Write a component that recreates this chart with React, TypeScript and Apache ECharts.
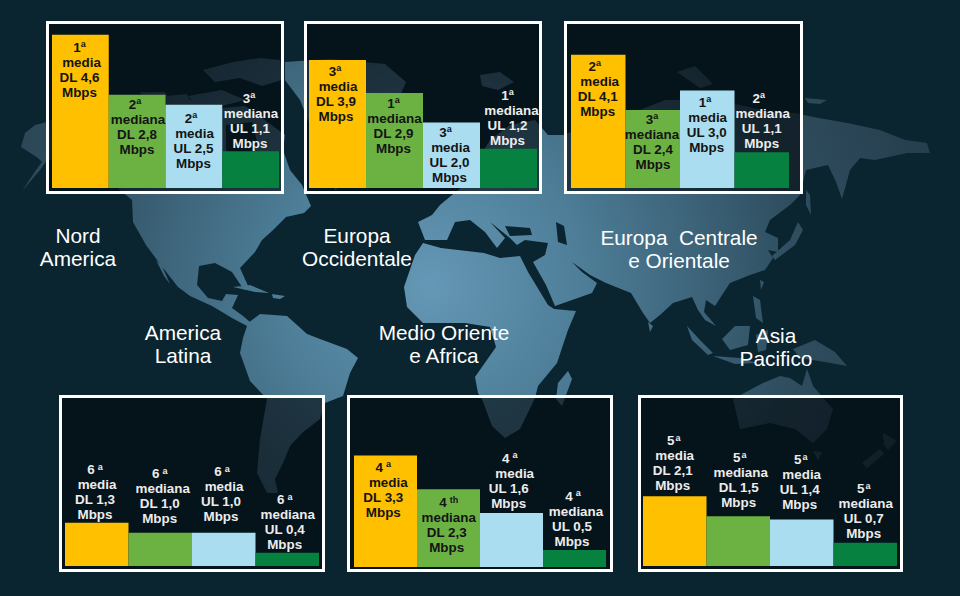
import React, { useEffect, useRef } from "react";
import * as echarts from "echarts";

// ---------- data ----------
const categories = ["media DL", "mediana DL", "media UL", "mediana UL"];
const metrics = ["media", "mediana", "media", "mediana"];
const directions = ["DL", "DL", "UL", "UL"];
const unit = "Mbps";

const northAmerica = [4.6, 2.8, 2.5, 1.1];
const westernEurope = [3.9, 2.9, 2.0, 1.2];
const centralEasternEurope = [4.1, 2.4, 3.0, 1.1];
const latinAmerica = [1.3, 1.0, 1.0, 0.4];
const middleEastAfrica = [3.3, 2.3, 1.6, 0.5];
const asiaPacific = [2.1, 1.5, 1.4, 0.7];

const northAmericaRanks = ["1", "2", "2", "3"];
const westernEuropeRanks = ["3", "1", "3", "1"];
const centralEasternEuropeRanks = ["2", "3", "1", "2"];
const latinAmericaRanks = ["6", "6", "6", "6"];
const middleEastAfricaRanks = ["4", "4", "4", "4"];
const asiaPacificRanks = ["5", "5", "5", "5"];

const middleEastAfricaSuffixes = ["a", "th", "a", "a"];

const regionNames = [
  "Nord\nAmerica",
  "Europa\nOccidentale",
  "Europa  Centrale\ne Orientale",
  "America\nLatina",
  "Medio Oriente\ne Africa",
  "Asia\nPacifico",
];

// ---------- layout and styles (no data) ----------
const barColors = ["#FFC000", "#6CB243", "#ABDDF0", "#06813F"];
const DARK = "#141414";
const LIGHT = "#ECECEC";

type Panel = {
  values: number[];
  ranks: string[];
  suffixes?: string[];
  box: number[]; // x, y, w, h
  plot: number[]; // left, right, bottom
  scale: number; // px per unit
  labelX: number[];
  labelY: number[];
  rankShift: number[];
  metricShift: number[];
  light: boolean[];
  gap: number;
};

const panels: Panel[] = [
  {
    values: northAmerica, ranks: northAmericaRanks, box: [47.5, 22.5, 235, 170], plot: [52, 279, 188], scale: 33.3,
    labelX: [79.5, 137, 193.5, 250], labelY: [47, 104, 118, 98], rankShift: [0, -2, -2.5, -1], metricShift: [2, 1, 1, 1],
    light: [false, false, false, true], gap: 0,
  },
  {
    values: westernEurope, ranks: westernEuropeRanks, box: [305.5, 22.5, 235, 170], plot: [309, 537, 188], scale: 32.8,
    labelX: [336, 393.5, 449.5, 507.5], labelY: [71, 103, 132, 95], rankShift: [-1, 0, -4, 0], metricShift: [2, 1, 1, 4],
    light: [false, false, false, true], gap: 0,
  },
  {
    values: centralEasternEurope, ranks: centralEasternEuropeRanks, box: [565.5, 22.5, 236, 170], plot: [571, 789, 188], scale: 32.5,
    labelX: [597.7, 653, 706.7, 761.7], labelY: [66, 119, 102, 98], rankShift: [-3, -1, -1.7, -3], metricShift: [2, -1, 1, 1],
    light: [false, false, false, true], gap: 0,
  },
  {
    values: latinAmerica, ranks: latinAmericaRanks, box: [60.5, 396.5, 263, 174], plot: [65, 319, 566], scale: 33.2,
    labelX: [95, 159.7, 221, 284.7], labelY: [469.7, 473.7, 471.7, 499.7], rankShift: [0, 0, 1, 0], metricShift: [2, 3, 3, 3],
    light: [true, true, true, true], gap: 3,
  },
  {
    values: middleEastAfrica, ranks: middleEastAfricaRanks, suffixes: middleEastAfricaSuffixes, box: [348.5, 396.5, 263, 174], plot: [354, 606, 567], scale: 33.8,
    labelX: [383.3, 446.7, 508.7, 572], labelY: [467, 502.7, 458.3, 496], rankShift: [0, 2, 1, 1], metricShift: [5, 2, 6, 4],
    light: [false, false, true, true], gap: 3,
  },
  {
    values: asiaPacific, ranks: asiaPacificRanks, box: [639.5, 396.5, 262, 174], plot: [643, 897, 566], scale: 33.2,
    labelX: [672.7, 738.7, 799.7, 863.7], labelY: [440.7, 457.7, 459.7, 488.7], rankShift: [1, 1, 1, 0], metricShift: [2, 2, 2, 2],
    light: [true, true, true, true], gap: 1,
  },
];

const regionLabelPositions = [
  [78, 224], [357, 224], [679, 226], [183, 321], [444, 321], [776, 324],
];

// ---------- decorative world map backdrop ----------
const landPolys: number[][][] = [
  // North America
  [[21,147],[25,133],[35,125],[47,122],[80,105],[140,96],[190,100],[222,108],[245,106],[262,118],[285,135],[283,150],[290,170],[302,185],[311,206],[304,213],[286,217],[272,231],[262,240],[255,252],[240,268],[249,288],[244,290],[232,272],[215,263],[199,266],[197,285],[208,298],[222,301],[226,294],[238,295],[232,308],[243,316],[250,322],[247,326],[232,318],[212,306],[190,296],[178,287],[160,264],[146,245],[133,222],[132,200],[120,190],[100,172],[70,160],[47,160],[40,170],[22,191],[36,170],[42,162],[38,158]],
  // Baja
  [[156,260],[162,266],[170,284],[164,276]],
  // Cuba & Hispaniola
  [[233,287],[250,285],[269,293],[255,292]],
  [[272,294],[285,296],[280,299],[273,298]],
  // Arctic Canada
  [[203,70],[233,62],[260,58],[280,60],[282,80],[262,86],[240,78],[215,82]],
  [[140,92],[165,92],[170,100],[145,101]],
  [[166,96],[187,94],[190,101],[170,102]],
  [[188,96],[222,90],[245,100],[222,106],[195,104]],
  // Greenland
  [[285,62],[330,59],[385,64],[406,82],[396,105],[365,125],[350,160],[336,190],[318,170],[312,130],[300,100],[285,80]],
  // South America
  [[248,323],[260,314],[287,316],[307,334],[320,339],[347,349],[358,358],[350,373],[343,396],[325,403],[320,419],[302,433],[290,446],[283,463],[275,479],[278,493],[267,493],[257,473],[260,439],[267,399],[250,381],[240,353],[243,338]],
  // Africa
  [[423,243],[441,248],[484,253],[500,258],[520,256],[528,272],[548,305],[554,309],[576,311],[568,330],[557,363],[538,386],[535,398],[520,429],[505,438],[492,426],[482,399],[478,393],[475,377],[496,347],[490,327],[465,323],[423,323],[407,307],[404,287],[415,255]],
  // Madagascar
  [[568,371],[572,379],[562,406],[556,399],[558,383]],
  // Eurasia
  [[418,222],[432,215],[440,205],[452,195],[470,180],[478,160],[490,140],[510,125],[535,120],[548,135],[563,135],[590,125],[640,110],[665,100],[700,100],[740,105],[770,112],[795,113],[813,117],[847,123],[880,130],[905,140],[927,143],[930,153],[907,153],[875,160],[860,158],[850,170],[842,199],[836,182],[828,165],[806,170],[800,195],[790,205],[770,220],[765,232],[778,238],[778,252],[768,250],[773,258],[765,270],[750,275],[730,283],[722,295],[715,306],[706,300],[704,312],[716,326],[705,320],[698,310],[692,297],[673,303],[660,315],[650,323],[643,313],[631,293],[606,283],[590,275],[572,262],[582,272],[597,283],[592,293],[555,306],[546,285],[533,262],[545,255],[548,243],[525,240],[517,245],[510,238],[500,230],[490,222],[505,238],[497,248],[485,232],[470,220],[455,222],[447,240],[425,240]],
  // Arctic Eurasia islands
  [[677,72],[695,66],[713,84],[700,88]],
  [[480,75],[500,72],[514,82],[498,90],[482,86]],
  [[805,98],[827,100],[820,104],[808,103]],
  // Japan, Sakhalin, Taiwan
  [[803,230],[795,245],[775,260],[772,256],[790,240],[798,222]],
  [[806,190],[810,195],[811,215],[806,205]],
  [[760,280],[764,282],[761,290]],
  // Sri Lanka
  [[648,322],[653,326],[650,332]],
  // Southeast Asia islands
  [[687,326],[700,340],[713,353],[708,355],[692,340]],
  [[713,356],[740,358],[757,363],[735,364]],
  [[722,339],[735,326],[750,326],[748,345],[730,350]],
  [[753,296],[760,300],[763,323],[756,318]],
  [[756,335],[768,330],[766,350],[758,352]],
  [[793,349],[815,340],[835,352],[847,366],[825,362],[800,358]],
  // Australia
  [[733,399],[763,383],[780,376],[790,378],[802,386],[807,369],[813,386],[833,409],[827,429],[813,443],[795,429],[770,423],[740,429]],
  [[813,451],[822,452],[818,460]],
  // New Zealand
  [[883,433],[897,441],[888,450],[884,445]],
  [[880,449],[884,454],[867,468],[862,463]],
];

const waterPolys: number[][][] = [
  [[226,125],[252,122],[258,145],[240,166],[226,150]], // Hudson Bay
  [[505,226],[530,228],[532,235],[510,236]], // Black Sea
  [[556,222],[564,226],[567,245],[558,242]], // Caspian
];

const toPath = (polys: number[][][]) =>
  polys.map((p) => "M" + p.map((q) => q.join(",")).join("L") + "Z").join("");

echarts.graphic.registerShape("worldLand", echarts.graphic.extendPath(toPath(landPolys), {}));
echarts.graphic.registerShape("worldWater", echarts.graphic.extendPath(toPath(waterPolys), {}));

const FONT = '"Liberation Sans", Arial, sans-serif';

function lineLabel(p: Panel, i: number) {
  const color = p.light[i] ? LIGHT : DARK;
  const rs = p.rankShift[i];
  const ms = p.metricShift[i];
  const value = p.values[i].toFixed(1).replace(".", ",");
  const suffix = p.suffixes ? p.suffixes[i] : "a";
  const base = { color, fontFamily: FONT, fontWeight: "bold", fontSize: 13.4, lineHeight: 15, align: "center" };
  return {
    show: true,
    position: "inside",
    align: "center",
    verticalAlign: "top",
    formatter: `{r|${p.ranks[i]}}{s|${suffix}}\n{m|${metrics[i]}}\n{t|${directions[i]} ${value}}\n{t|${unit}}`,
    rich: {
      r: { ...base, padding: [0, 0, 0, rs > 0 ? rs * 2 : 0] },
      s: { ...base, fontSize: 9, verticalAlign: "top", padding: [0, rs < 0 ? -rs * 2 : 0, 0, p.gap] },
      m: { ...base, padding: [0, ms < 0 ? -ms * 2 : 0, 0, ms > 0 ? ms * 2 : 0] },
      t: { ...base },
    },
  };
}

function buildOption() {
  const grid: any[] = [];
  const xAxis: any[] = [];
  const yAxis: any[] = [];
  const series: any[] = [];
  panels.forEach((p, idx) => {
    const top = p.box[1] + 2;
    const height = p.plot[2] - top;
    grid.push({ left: p.plot[0], top, width: p.plot[1] - p.plot[0], height });
    xAxis.push({ type: "category", gridIndex: idx, data: categories, show: false, boundaryGap: true });
    yAxis.push({ type: "value", gridIndex: idx, min: 0, max: height / p.scale, show: false });
    series.push({
      type: "bar",
      name: regionNames[idx].replace(/\s+/g, " "),
      xAxisIndex: idx,
      yAxisIndex: idx,
      barCategoryGap: 0,
      barWidth: "100%",
      data: p.values.map((v, i) => ({
        value: v,
        itemStyle: { color: barColors[i] },
        label: lineLabel(p, i),
      })),
      labelLayout: (params: any) => ({
        x: p.labelX[params.dataIndex],
        y: p.labelY[params.dataIndex] - 7.5,
        align: "center",
        verticalAlign: "top",
      }),
    });
  });

  const graphic: any[] = [
    { type: "rect", shape: { x: 0, y: 0, width: 960, height: 596 }, style: { fill: "#0A2430" }, silent: true },
    {
      type: "worldLand",
      x: 0,
      y: 0,
      silent: true,
      style: {
        fill: {
          type: "radial",
          x: 430,
          y: 285,
          r: 520,
          global: true,
          colorStops: [
            { offset: 0, color: "#6598B6" },
            { offset: 0.3, color: "#4D7D97" },
            { offset: 0.7, color: "#2F4E60" },
            { offset: 1, color: "#263E4D" },
          ],
        },
      },
    },
    { type: "worldWater", x: 0, y: 0, silent: true, style: { fill: "#0A2430" } },
  ];
  panels.forEach((p) => {
    graphic.push({
      type: "rect",
      silent: true,
      shape: { x: p.box[0], y: p.box[1], width: p.box[2], height: p.box[3] },
      style: { fill: "rgba(3,10,15,0.62)", stroke: "#FFFFFF", lineWidth: 3 },
    });
  });
  regionNames.forEach((name, i) => {
    graphic.push({
      type: "text",
      silent: true,
      x: regionLabelPositions[i][0],
      y: regionLabelPositions[i][1],
      style: {
        text: name,
        fill: "#FFFFFF",
        font: `20.8px ${FONT}`,
        lineHeight: 23,
        align: "center",
        verticalAlign: "top",
      },
    });
  });

  return { animation: false, backgroundColor: "#0A2430", graphic, grid, xAxis, yAxis, series };
}

export default function App() {
  const ref = useRef<HTMLDivElement>(null);
  useEffect(() => {
    document.body.style.margin = "0";
    document.body.style.background = "#0A2430";
    const chart = echarts.init(ref.current!, undefined, { renderer: "svg" });
    chart.setOption(buildOption() as any);
    return () => chart.dispose();
  }, []);
  return <div ref={ref} style={{ position: "absolute", left: 0, top: 0, width: 960, height: 596 }} />;
}
